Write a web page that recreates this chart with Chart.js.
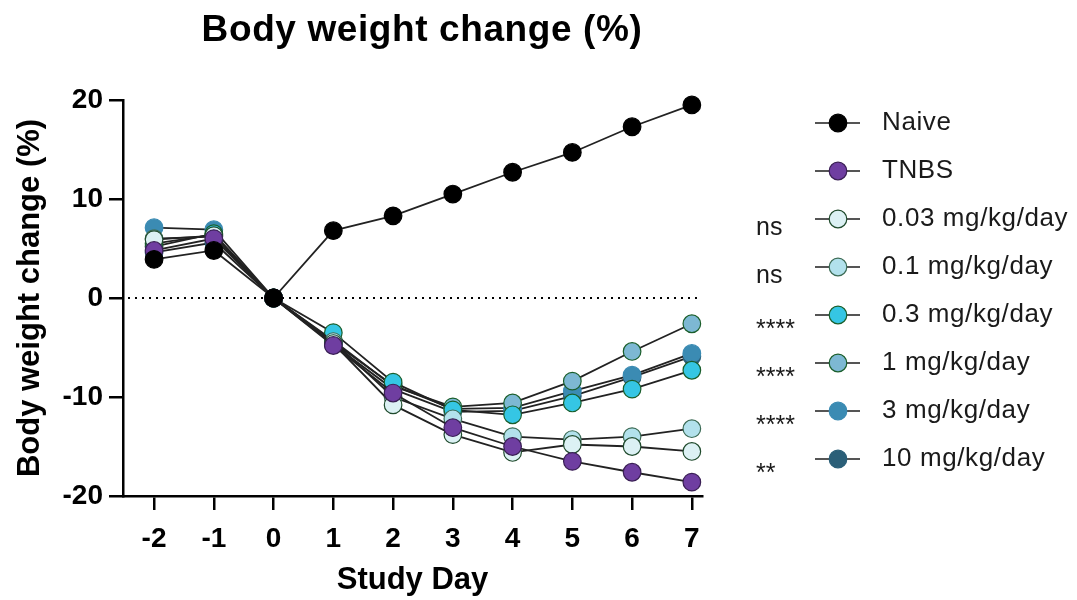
<!DOCTYPE html>
<html>
<head>
<meta charset="utf-8">
<title>Body weight change</title>
<script src="https://cdn.jsdelivr.net/npm/chart.js@4/dist/chart.umd.min.js"></script>
<style>
  html, body { margin: 0; padding: 0; background: #fff; }
  #wrap { width: 1077px; height: 600px; }
</style>
</head>
<body>
<div id="wrap"><canvas id="bwChart" width="1077" height="600"></canvas></div>
<script>
// study days and mean body weight change (%) per group
const days = [-2, -1, 0, 1, 2, 3, 4, 5, 6, 7];
const yTicks = [-20, -10, 0, 10, 20];

const naive   = [3.9, 4.8, 0, 6.8, 8.3, 10.5, 12.7, 14.7, 17.3, 19.5];
const tnbs    = [4.8, 6.0, 0, -4.8, -9.6, -13.1, -15.0, -16.5, -17.6, -18.6];
const dose003 = [5.9, 6.3, 0, -4.6, -10.8, -13.8, -15.6, -14.8, -15.0, -15.5];
const dose01  = [6.0, 6.2, 0, -4.4, -10.0, -12.2, -14.0, -14.3, -14.0, -13.2];
const dose03  = [5.2, 6.5, 0, -3.5, -8.5, -11.3, -11.8, -10.6, -9.2, -7.3];
const dose1   = [5.5, 6.4, 0, -4.3, -8.9, -11.0, -10.6, -8.4, -5.4, -2.6];
const dose3   = [7.1, 6.9, 0, -4.5, -8.8, -11.2, -11.1, -9.4, -7.8, -5.6];
const dose10  = [4.6, 5.6, 0, -4.7, -9.2, -11.5, -11.4, -9.9, -8.0, -5.9];

const groupNames = ['Naive', 'TNBS', '0.03 mg/kg/day', '0.1 mg/kg/day', '0.3 mg/kg/day',
                    '1 mg/kg/day', '3 mg/kg/day', '10 mg/kg/day'];
const groupValues = [naive, tnbs, dose003, dose01, dose03, dose1, dose3, dose10];
const significance = ['', '', 'ns', 'ns', '****', '****', '****', '**'];

const fills   = ['#000000', '#6f3ea1', '#dcf1f4', '#b2e1ec', '#35c6e4', '#7db8d3', '#3b8bb3', '#2b5f78'];
const borders = ['#000000', '#3a1f55', '#1f4a2c', '#3c6b55', '#1a5e2b', '#1a5e2b', '#3b8bb3', '#2b5f78'];

const FONT = '"Liberation Sans", Arial, Helvetica, sans-serif';

const datasets = groupNames.map((name, i) => ({
    label: name,
    data: days.map((d, j) => ({ x: d, y: groupValues[i][j] })),
    borderColor: '#222',
    borderWidth: 1.8,
    backgroundColor: fills[i],
    pointBackgroundColor: fills[i],
    pointBorderColor: borders[i],
    pointBorderWidth: 1.2,
    pointRadius: 8.8,
    pointHoverRadius: 8.8,
    tension: 0,
    clip: false
}));

// title, dotted zero line, legend with significance marks
const decorations = {
    id: 'decorations',
    beforeDatasetsDraw(chart) {
        const ctx = chart.ctx;
        const area = chart.chartArea;
        const y0 = chart.scales.y.getPixelForValue(0);
        ctx.save();
        ctx.strokeStyle = '#000';
        ctx.lineWidth = 2;
        ctx.setLineDash([2, 5]);
        ctx.beginPath();
        ctx.moveTo(area.left + 5, y0);
        ctx.lineTo(area.right, y0);
        ctx.stroke();
        ctx.restore();
    },
    afterDraw(chart) {
        const ctx = chart.ctx;
        ctx.save();
        ctx.fillStyle = '#000';
        ctx.font = 'bold 37px ' + FONT;
        ctx.textAlign = 'center';
        ctx.textBaseline = 'middle';
        ctx.letterSpacing = '0.6px';
        ctx.fillText('Body weight change (%)', 422, 31);

        const rowTop = 123, rowGap = 48;
        chart.data.datasets.forEach((ds, i) => {
            const y = rowTop + i * rowGap;
            ctx.strokeStyle = '#555';
            ctx.lineWidth = 2.2;
            ctx.beginPath();
            ctx.moveTo(815, y);
            ctx.lineTo(860, y);
            ctx.stroke();

            ctx.beginPath();
            ctx.arc(838, y, 8.8, 0, Math.PI * 2);
            ctx.fillStyle = ds.pointBackgroundColor;
            ctx.fill();
            ctx.lineWidth = 1.2;
            ctx.strokeStyle = ds.pointBorderColor;
            ctx.stroke();

            ctx.fillStyle = '#1a1a1a';
            ctx.font = '26px ' + FONT;
            ctx.letterSpacing = '0.6px';
            ctx.textAlign = 'left';
            ctx.textBaseline = 'middle';
            ctx.fillText(ds.label, 882, y);

            const sig = significance[i];
            if (sig) {
                ctx.letterSpacing = '0px';
                ctx.textBaseline = 'alphabetic';
                ctx.font = '25px ' + FONT;
                ctx.fillText(sig, 756, y + (sig === 'ns' ? 16 : 22));
            }
        });
        ctx.restore();
    }
};

new Chart(document.getElementById('bwChart').getContext('2d'), {
    type: 'line',
    data: { datasets: datasets },
    plugins: [decorations],
    options: {
        responsive: false,
        animation: false,
        layout: { padding: { top: 100, right: 375, left: 0, bottom: 0 } },
        plugins: {
            legend: { display: false },
            title: { display: false },
            tooltip: { enabled: false }
        },
        scales: {
            x: {
                type: 'linear',
                min: -2.52,
                max: 7.17,
                afterFit(scale) { scale.height = 104; },
                border: { display: true, color: '#000', width: 2.5 },
                grid: { display: true, drawOnChartArea: false, drawTicks: true, tickLength: 14, color: '#000', lineWidth: 2.5 },
                ticks: {
                    stepSize: 1,
                    includeBounds: false,
                    color: '#000',
                    padding: 12,
                    maxRotation: 0,
                    font: { family: FONT, size: 28, weight: 'bold' }
                },
                title: {
                    display: true,
                    text: 'Study Day',
                    color: '#000',
                    padding: { top: 0, bottom: 1 },
                    font: { family: FONT, size: 31, weight: 'bold' }
                }
            },
            y: {
                min: yTicks[0],
                max: yTicks[yTicks.length - 1],
                afterFit(scale) { scale.width = 123; },
                afterBuildTicks(scale) { scale.ticks = yTicks.map(v => ({ value: v })); },
                border: { display: true, color: '#000', width: 2.5 },
                grid: { display: true, drawOnChartArea: false, drawTicks: true, tickLength: 14, color: '#000', lineWidth: 2.5 },
                ticks: {
                    color: '#000',
                    padding: 6,
                    font: { family: FONT, size: 28, weight: 'bold' }
                },
                title: {
                    display: true,
                    text: 'Body weight change (%)',
                    color: '#000',
                    padding: { top: 12, bottom: 0 },
                    font: { family: FONT, size: 31, weight: 'bold' }
                }
            }
        }
    }
});
</script>
</body>
</html>
